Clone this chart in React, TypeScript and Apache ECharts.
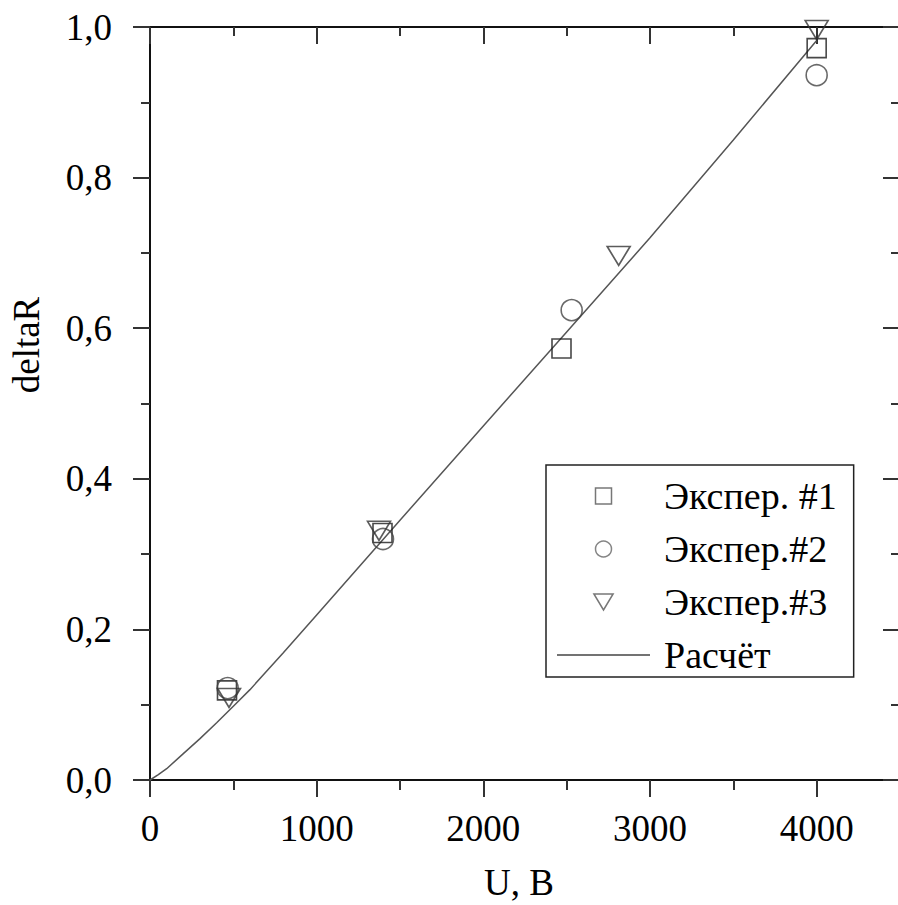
import React, { useEffect, useRef } from "react";
import * as echarts from "echarts";

// Calculated curve
const calcU = [0, 50, 100, 200, 300, 400, 500, 600, 800, 1000, 1500, 2000, 2500, 3000, 3500, 4000];
const calcR = [0, 0.007, 0.015, 0.035, 0.055, 0.076, 0.098, 0.12, 0.169, 0.219, 0.345, 0.47, 0.595, 0.72, 0.85, 0.982];

// Experiments
const exp1U = [462, 1395, 2469, 4000];
const exp1R = [0.119, 0.328, 0.573, 0.972];
const exp2U = [466, 1398, 2530, 4000];
const exp2R = [0.122, 0.32, 0.624, 0.936];
const exp3U = [474, 1374, 2812, 4000];
const exp3R = [0.109, 0.331, 0.696, 0.996];

const seriesNames = ["Экспер. #1", "Экспер.#2", "Экспер.#3", "Расчёт"];
const xName = "U, B";
const yName = "deltaR";

const FONT = "Liberation Serif";
const TRI = "path://M0,0L24,0L12,20Z";
const SQ = "path://M0,0L10,0L10,10L0,10Z";
const LINE_ICON = "path://M0,0L93,0L93,1.5L0,1.5Z";

const pairs = (xs: number[], ys: number[]) => xs.map((x, i) => [x, ys[i]]);

export default function App() {
  const ref = useRef<HTMLDivElement>(null);
  useEffect(() => {
    if (!ref.current) return;
    const chart = echarts.init(ref.current, null, { renderer: "svg" });
    const axisLine = { show: true, onZero: false, lineStyle: { color: "#111", width: 2 } };
    const tickStyle = { color: "#333", width: 2 };
    const xBase = { type: "value", min: 0, max: 4500, gridIndex: 0, splitLine: { show: false } };
    const yBase = { type: "value", min: 0, max: 1, interval: 0.2, splitLine: { show: false }, minorSplitLine: { show: false } };
    const option: any = {
      animation: false,
      backgroundColor: "#fff",
      textStyle: { fontFamily: FONT },
      grid: { left: 150, right: 0, top: 27, bottom: 125, containLabel: false },
      xAxis: [
        {
          ...xBase,
          position: "bottom",
          interval: 1000,
          axisLine,
          axisTick: { show: true, length: 17, lineStyle: tickStyle },
          axisLabel: {
            show: true,
            margin: 30,
            fontSize: 37,
            fontFamily: FONT,
            color: "#000",
            showMaxLabel: false,
            formatter: (v: number) => (v > 4000 ? "" : String(v)),
          },
        },
        {
          ...xBase,
          position: "bottom",
          interval: 500,
          axisLine: { show: false, onZero: false },
          axisTick: { show: true, length: 10, lineStyle: tickStyle },
          axisLabel: { show: false },
        },
        {
          ...xBase,
          position: "top",
          interval: 1000,
          axisLine,
          axisTick: { show: true, inside: true, length: 17, lineStyle: tickStyle },
          axisLabel: { show: false },
        },
        {
          ...xBase,
          position: "top",
          interval: 500,
          axisLine: { show: false, onZero: false },
          axisTick: { show: true, inside: true, length: 9, lineStyle: tickStyle },
          axisLabel: { show: false },
        },
      ],
      yAxis: [
        {
          ...yBase,
          position: "left",
          axisLine,
          axisTick: { show: true, length: 17, lineStyle: tickStyle },
          minorTick: { show: true, splitNumber: 2, length: 9, lineStyle: tickStyle },
          axisLabel: {
            show: true,
            margin: 38,
            fontSize: 37,
            fontFamily: FONT,
            color: "#000",
            formatter: (v: number) => v.toFixed(1).replace(".", ","),
          },
        },
        {
          ...yBase,
          position: "right",
          axisLine,
          axisTick: { show: true, inside: true, length: 17, lineStyle: tickStyle },
          minorTick: { show: true, splitNumber: 2, length: 9, lineStyle: tickStyle },
          axisLabel: { show: false },
        },
      ],
      legend: {
        orient: "vertical",
        left: 546,
        top: 465,
        padding: [12, 17, 3, 11],
        itemWidth: 93,
        itemHeight: 16,
        itemGap: 15,
        borderColor: "#222",
        borderWidth: 1.5,
        backgroundColor: "#fff",
        selectedMode: false,
        textStyle: { fontFamily: FONT, fontSize: 38, lineHeight: 38, color: "#000", padding: [0, 0, 0, 9] },
        data: [
          { name: seriesNames[0], icon: SQ, itemStyle: { color: "transparent", borderColor: "#555", borderWidth: 1.5 } },
          { name: seriesNames[1], icon: "circle", itemStyle: { color: "transparent", borderColor: "#666", borderWidth: 1.5 } },
          { name: seriesNames[2], icon: TRI, itemStyle: { color: "transparent", borderColor: "#555", borderWidth: 1.5 } },
          { name: seriesNames[3], icon: LINE_ICON, itemStyle: { color: "#444", borderWidth: 0 } },
        ],
      },
      series: [
        {
          name: seriesNames[3],
          type: "line",
          xAxisIndex: 0,
          yAxisIndex: 0,
          data: pairs(calcU, calcR),
          symbol: "none",
          showSymbol: false,
          smooth: false,
          lineStyle: { color: "#555", width: 1.5 },
          itemStyle: { color: "#555" },
          z: 2,
        },
        {
          name: seriesNames[0],
          type: "scatter",
          xAxisIndex: 0,
          yAxisIndex: 0,
          data: pairs(exp1U, exp1R),
          symbol: "rect",
          symbolSize: 19,
          itemStyle: { color: "transparent", borderColor: "#1a1a1a", borderWidth: 1.6 },
          z: 3,
        },
        {
          name: seriesNames[1],
          type: "scatter",
          xAxisIndex: 0,
          yAxisIndex: 0,
          data: pairs(exp2U, exp2R),
          symbol: "circle",
          symbolSize: 21,
          itemStyle: { color: "transparent", borderColor: "#444", borderWidth: 1.6 },
          z: 3,
        },
        {
          name: seriesNames[2],
          type: "scatter",
          xAxisIndex: 0,
          yAxisIndex: 0,
          data: pairs(exp3U, exp3R),
          symbol: TRI,
          symbolSize: [23, 19],
          itemStyle: { color: "transparent", borderColor: "#333", borderWidth: 1.6 },
          z: 3,
        },
      ],
      graphic: [
        {
          type: "text",
          x: 26,
          y: 345,
          rotation: Math.PI / 2,
          style: { text: yName, fontFamily: FONT, fontSize: 37, fill: "#000", align: "center", verticalAlign: "middle" },
        },
        {
          type: "text",
          x: 519,
          y: 882,
          style: { text: xName, fontFamily: FONT, fontSize: 37, fill: "#000", align: "center", verticalAlign: "middle" },
        },
      ],
    };
    chart.setOption(option);
    return () => chart.dispose();
  }, []);
  return (
    <div style={{ position: "fixed", left: 0, top: 0, width: 898, height: 905, overflow: "hidden", background: "#fff" }}>
      <div ref={ref} style={{ width: 900, height: 905 }} />
    </div>
  );
}
